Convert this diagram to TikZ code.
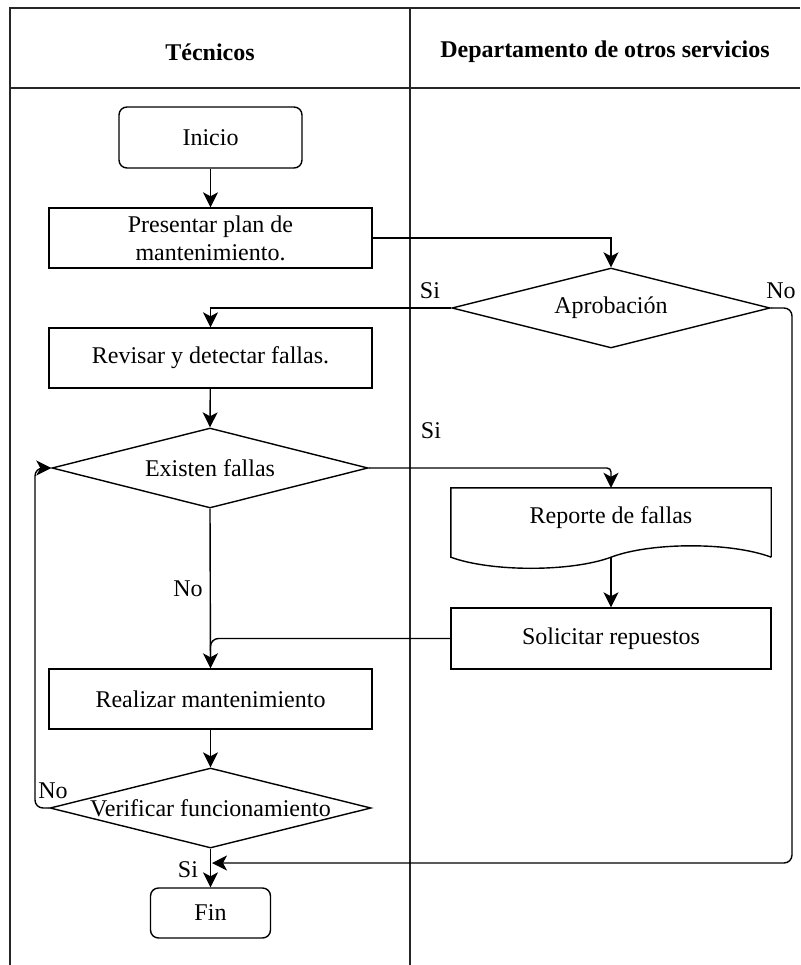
\documentclass[tikz,border=0pt]{standalone}
\usepackage{fontspec}
\setmainfont{Liberation Serif}
\usetikzlibrary{shapes.geometric,arrows.meta}

\tikzset{
  base/.style={font=\fontsize{24}{28}\selectfont},
  lane/.style={line width=1.6pt, draw=black!85},
  stepbox/.style={base, draw, line width=1.4pt, inner sep=0pt, align=center,
    minimum width=323pt, minimum height=60pt},
  term/.style={stepbox, rounded corners=8pt},
  decision/.style={draw, line width=1.4pt, diamond, aspect=4, inner sep=0pt},
  txt/.style={base, inner sep=0pt},
  flow/.style={line width=1.4pt},
  arr/.style={flow, -{Stealth[length=15pt,width=15pt,inset=4pt]}},
  hdr/.style={font=\fontsize{24}{28}\selectfont\bfseries, inner sep=0pt}
}

\begin{document}
\begin{tikzpicture}[x=1pt,y=-1pt]
  \useasboundingbox (0,0) rectangle (800,965);

  % swimlane frame
  \draw[lane] (10,965) -- (10,8) -- (800,8);
  \draw[lane] (10,88) -- (800,88);
  \draw[lane] (410,8) -- (410,965);
  \node[hdr] (h1) at (210,52) {Técnicos};
  \node[hdr] (h2) at (605,52) {Departamento de otros servicios};

  % left lane
  \node[term, minimum width=183pt, minimum height=61pt] (ini) at (210.5,137.5) {Inicio};
  \node[stepbox] (pres) at (210.5,238) {Presentar plan de\\mantenimiento.};
  \node[stepbox] (rev) at (210.5,358) {Revisar y detectar fallas.};
  \node[decision, minimum width=316pt, minimum height=80pt] (exi) at (210,468) {};
  \node[txt] (exit) at (exi) {Existen fallas};
  \node[stepbox] (rea) at (210.5,699) {Realizar mantenimiento};
  \node[decision, minimum width=321pt, minimum height=80pt] (ver) at (210.5,808) {};
  \node[txt] (vert) at (ver) {Verificar funcionamiento};
  \node[term, minimum width=120pt, minimum height=50pt] (fin) at (210.5,913) {Fin};

  % right lane
  \node[decision, minimum width=318pt, minimum height=80pt] (apr) at (611,308) {};
  \node[txt] (aprt) at (apr) {Aprobación};
  \node[base, minimum width=320pt, minimum height=69pt, inner sep=0pt] (rep) at (611,522.5) {};
  \node[txt] (rept) at (611,518) {Reporte de fallas};
  \draw[flow] (rep.south east) -- (rep.north east) -- (rep.north west) -- (rep.south west)
    .. controls (491,572) and (571,572) .. (rep.south)
    .. controls (651,542) and (731,542) .. (rep.south east);
  \node[stepbox, minimum width=320pt, minimum height=61pt] (sol) at (611,638.5) {Solicitar repuestos};

  % connectors
  \coordinate (join) at (212,863);
  \draw[arr] (ini) -- (pres);
  \draw[arr] (pres.east) -| (apr.north);
  \draw[arr] (apr.west) -| (rev.north);
  \draw[arr, rounded corners=8pt] (apr.east) -- (792,308) -- (792,863) -- (join);
  \draw[arr] (rev) -- (exi.north);
  \draw[arr, rounded corners=4pt] (exi.east) -| (rep.north);
  \draw[arr] (exi.south) -- (rea.north);
  \draw[arr] (rep.south) -- (sol.north);
  \draw[flow, rounded corners=8pt] (sol.west) -| ([yshift=2pt]rea.north);
  \draw[arr] (rea) -- (ver.north);
  \draw[arr, rounded corners=8pt] (ver.west) -- (35,808) -- (35,468) -- (exi.west);
  \draw[arr] (ver.south) -- (fin.north);

  % branch labels
  \node[txt] (l1) at (430,291) {Si};
  \node[txt] (l2) at (781,291) {No};
  \node[txt] (l3) at (431,431) {Si};
  \node[txt] (l4) at (188,589) {No};
  \node[txt] (l5) at (53,791) {No};
  \node[txt] (l6) at (188,870) {Si};
\end{tikzpicture}
\end{document}
